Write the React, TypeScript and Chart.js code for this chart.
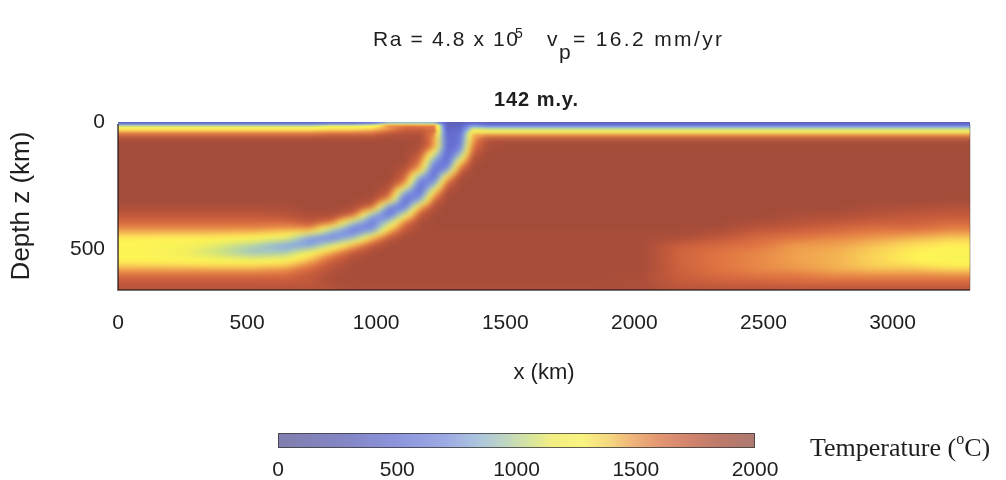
import React, { useEffect, useRef } from "react";
import { Chart, registerables } from "chart.js";

Chart.register(...registerables);

// ---------------- data ----------------
// horizontal cell edges (km)
const xEdgesKm = [0, 150, 300, 450, 600, 700, 790, 870, 950, 1020, 1080, 1140, 1200, 1250, 1300, 1350, 1400, 1470, 1550, 1750, 1950, 2100, 2250, 2400, 2550, 2700, 2850, 3000, 3150, 3300];
// depth cell edges (km)
const depthEdgesKm = [0, 8, 18, 30, 42, 56, 80, 110, 140, 170, 200, 230, 260, 290, 320, 350, 380, 410, 440, 470, 500, 530, 560, 590, 620, 645, 660];

// temperature (°C) of each cell, one row per depth band, one value per x band
const temperatureRows: number[][] = [
  [350, 350, 350, 350, 350, 350, 400, 400, 500, 800, 800, 800, 800, 300, 300, 400, 300, 300, 300, 300, 300, 300, 300, 300, 300, 300, 300, 300, 300],
  [950, 950, 950, 950, 950, 950, 1050, 1050, 1150, 1550, 1550, 1550, 1550, 350, 350, 700, 550, 550, 550, 550, 550, 550, 550, 550, 550, 550, 550, 550, 550],
  [1250, 1250, 1250, 1250, 1250, 1250, 1300, 1300, 1350, 1500, 1650, 1650, 1600, 350, 400, 1000, 950, 950, 950, 950, 950, 950, 950, 950, 950, 950, 950, 950, 950],
  [1420, 1420, 1420, 1420, 1420, 1420, 1450, 1450, 1500, 1600, 1750, 1750, 1650, 400, 450, 1250, 1180, 1180, 1180, 1180, 1180, 1180, 1180, 1180, 1180, 1180, 1180, 1180, 1180],
  [1650, 1650, 1650, 1650, 1650, 1650, 1700, 1700, 1700, 1820, 1820, 1820, 1550, 400, 500, 1450, 1480, 1480, 1480, 1480, 1480, 1480, 1480, 1480, 1480, 1480, 1480, 1480, 1480],
  [1880, 1880, 1880, 1880, 1880, 1880, 1880, 1880, 1880, 1880, 1880, 1880, 1500, 400, 500, 1500, 1850, 1850, 1850, 1850, 1850, 1850, 1850, 1850, 1850, 1850, 1850, 1850, 1850],
  [1900, 1900, 1900, 1900, 1900, 1900, 1900, 1900, 1900, 1900, 1900, 1850, 1550, 400, 550, 1600, 1850, 1900, 1900, 1900, 1900, 1900, 1900, 1900, 1900, 1900, 1900, 1900, 1900],
  [1900, 1900, 1900, 1900, 1900, 1900, 1900, 1900, 1900, 1900, 1900, 1750, 1100, 400, 800, 1750, 1900, 1900, 1900, 1900, 1900, 1900, 1900, 1900, 1900, 1900, 1900, 1900, 1900],
  [1900, 1900, 1900, 1900, 1900, 1900, 1900, 1900, 1900, 1900, 1900, 1600, 700, 420, 1300, 1850, 1900, 1900, 1900, 1900, 1900, 1900, 1900, 1900, 1900, 1900, 1900, 1900, 1900],
  [1900, 1900, 1900, 1900, 1900, 1900, 1900, 1900, 1900, 1900, 1800, 1450, 450, 650, 1650, 1900, 1900, 1900, 1900, 1900, 1900, 1900, 1900, 1900, 1900, 1900, 1900, 1900, 1900],
  [1900, 1900, 1900, 1900, 1900, 1900, 1900, 1900, 1900, 1900, 1700, 800, 450, 1350, 1850, 1900, 1900, 1900, 1900, 1900, 1900, 1900, 1900, 1900, 1900, 1900, 1900, 1900, 1900],
  [1900, 1900, 1900, 1900, 1900, 1900, 1900, 1900, 1900, 1850, 1500, 450, 800, 1700, 1900, 1900, 1900, 1900, 1900, 1900, 1900, 1900, 1900, 1900, 1900, 1900, 1900, 1900, 1900],
  [1900, 1900, 1900, 1900, 1900, 1900, 1900, 1900, 1900, 1750, 800, 450, 1350, 1850, 1900, 1900, 1900, 1900, 1900, 1900, 1900, 1900, 1900, 1900, 1900, 1900, 1900, 1900, 1900],
  [1900, 1900, 1900, 1900, 1900, 1900, 1900, 1900, 1850, 1500, 450, 750, 1650, 1900, 1900, 1900, 1900, 1900, 1900, 1900, 1900, 1900, 1900, 1900, 1900, 1900, 1900, 1900, 1900],
  [1850, 1850, 1850, 1850, 1850, 1900, 1900, 1850, 1650, 550, 550, 1450, 1850, 1900, 1900, 1900, 1900, 1900, 1900, 1900, 1900, 1900, 1900, 1900, 1900, 1900, 1850, 1850, 1800],
  [1750, 1750, 1750, 1750, 1800, 1850, 1850, 1700, 800, 500, 1100, 1750, 1880, 1900, 1900, 1900, 1900, 1900, 1900, 1900, 1900, 1900, 1900, 1900, 1850, 1850, 1800, 1750, 1750],
  [1650, 1650, 1650, 1650, 1650, 1750, 1600, 900, 550, 1000, 1600, 1850, 1900, 1900, 1900, 1900, 1900, 1900, 1900, 1900, 1900, 1900, 1900, 1850, 1800, 1750, 1700, 1700, 1650],
  [1500, 1500, 1500, 1500, 1450, 1450, 900, 550, 700, 1400, 1750, 1880, 1880, 1880, 1880, 1880, 1880, 1880, 1880, 1880, 1880, 1880, 1850, 1750, 1700, 1650, 1600, 1600, 1550],
  [1300, 1300, 1300, 1250, 1150, 700, 600, 850, 1400, 1750, 1880, 1880, 1880, 1880, 1880, 1880, 1880, 1880, 1880, 1880, 1880, 1850, 1750, 1650, 1600, 1550, 1500, 1450, 1400],
  [1250, 1200, 1100, 950, 750, 750, 1100, 1450, 1750, 1880, 1880, 1880, 1880, 1880, 1880, 1880, 1880, 1880, 1880, 1880, 1880, 1700, 1650, 1600, 1500, 1480, 1420, 1350, 1300],
  [1250, 1150, 1050, 900, 950, 1250, 1500, 1750, 1880, 1880, 1880, 1880, 1880, 1880, 1880, 1880, 1880, 1880, 1880, 1880, 1880, 1680, 1600, 1550, 1480, 1450, 1380, 1300, 1220],
  [1280, 1250, 1200, 1200, 1250, 1450, 1700, 1850, 1880, 1880, 1880, 1880, 1880, 1880, 1880, 1880, 1880, 1880, 1880, 1880, 1880, 1680, 1600, 1550, 1480, 1450, 1380, 1300, 1220],
  [1450, 1450, 1450, 1450, 1500, 1650, 1800, 1880, 1880, 1880, 1880, 1880, 1880, 1880, 1880, 1880, 1880, 1880, 1880, 1880, 1880, 1700, 1600, 1550, 1500, 1450, 1400, 1400, 1350],
  [1650, 1650, 1650, 1650, 1650, 1750, 1850, 1880, 1880, 1880, 1880, 1880, 1880, 1880, 1880, 1880, 1880, 1880, 1880, 1880, 1850, 1700, 1650, 1600, 1600, 1550, 1550, 1550, 1550],
  [1750, 1750, 1750, 1750, 1750, 1750, 1870, 1870, 1870, 1870, 1870, 1870, 1870, 1870, 1870, 1870, 1870, 1870, 1870, 1870, 1850, 1750, 1700, 1700, 1650, 1650, 1650, 1650, 1650],
  [1800, 1800, 1800, 1800, 1800, 1800, 1800, 1850, 1850, 1850, 1850, 1850, 1850, 1850, 1850, 1850, 1850, 1850, 1850, 1850, 1850, 1780, 1780, 1780, 1780, 1780, 1780, 1780, 1780],
];

const xTickValues = [0, 500, 1000, 1500, 2000, 2500, 3000];
const depthTickValues = [0, 500];
const colorbarTickValues = [0, 500, 1000, 1500, 2000];
const xRange = [0, 3300];
const depthRange = [0, 660];
const temperatureRange = [0, 2000];

const timeLabel = "142 m.y.";
const raText = "Ra = 4.8 x 10";
const raExponent = "5";
const vText = "v";
const vSubscript = "p";
const vValue = "= 16.2 mm/yr";
const xTitle = "x (km)";
const yTitle = "Depth z (km)";
const cbTitleA = "Temperature (";
const cbTitleSup = "o";
const cbTitleB = "C)";

// ---------------- style ----------------
const SANS = '"Liberation Sans", Arial, Helvetica, sans-serif';
const SERIF = '"Liberation Serif", "Times New Roman", serif';
const TEXT = "#1e1e1e";

const CMAP: [number, number[]][] = [
  [0, [88, 84, 150]],
  [300, [92, 96, 185]],
  [500, [105, 115, 215]],
  [700, [125, 145, 225]],
  [850, [150, 185, 215]],
  [950, [172, 205, 178]],
  [1050, [205, 225, 130]],
  [1150, [245, 240, 90]],
  [1280, [255, 246, 85]],
  [1380, [250, 212, 88]],
  [1480, [240, 162, 78]],
  [1600, [224, 116, 66]],
  [1720, [200, 92, 60]],
  [1830, [176, 80, 58]],
  [1900, [163, 76, 58]],
  [2000, [148, 78, 66]],
];

function tempRGB(t: number): number[] {
  if (t <= CMAP[0][0]) return CMAP[0][1];
  for (let i = 1; i < CMAP.length; i++) {
    if (t <= CMAP[i][0]) {
      const [t0, c0] = CMAP[i - 1];
      const [t1, c1] = CMAP[i];
      const f = (t - t0) / (t1 - t0);
      return c0.map((v, k) => v + (c1[k] - v) * f);
    }
  }
  return CMAP[CMAP.length - 1][1];
}
function rgbStr(c: number[]) {
  return `rgb(${Math.round(c[0])},${Math.round(c[1])},${Math.round(c[2])})`;
}

// locate a value between cell centres (gouraud-style shading of the cells)
function locate(centers: number[], v: number): [number, number] {
  const n = centers.length;
  if (v <= centers[0]) return [0, 0];
  if (v >= centers[n - 1]) return [n - 2, 1];
  let i = 0;
  while (i < n - 2 && centers[i + 1] < v) i++;
  return [i, (v - centers[i]) / (centers[i + 1] - centers[i])];
}

function boxBlur(src: Uint8ClampedArray, w: number, h: number, r: number): Uint8ClampedArray {
  const tmp = new Float32Array(src.length);
  const out = new Uint8ClampedArray(src.length);
  const n = 2 * r + 1;
  for (let y = 0; y < h; y++) {
    for (let c = 0; c < 3; c++) {
      let sum = 0;
      for (let k = -r; k <= r; k++) sum += src[(y * w + Math.min(w - 1, Math.max(0, k))) * 4 + c];
      for (let x = 0; x < w; x++) {
        tmp[(y * w + x) * 4 + c] = sum / n;
        const xo = Math.max(0, x - r);
        const xi = Math.min(w - 1, x + r + 1);
        sum += src[(y * w + xi) * 4 + c] - src[(y * w + xo) * 4 + c];
      }
    }
  }
  for (let x = 0; x < w; x++) {
    for (let c = 0; c < 3; c++) {
      let sum = 0;
      for (let k = -r; k <= r; k++) sum += tmp[(Math.min(h - 1, Math.max(0, k)) * w + x) * 4 + c];
      for (let y = 0; y < h; y++) {
        out[(y * w + x) * 4 + c] = sum / n;
        const yo = Math.max(0, y - r);
        const yi = Math.min(h - 1, y + r + 1);
        sum += tmp[(yi * w + x) * 4 + c] - tmp[(yo * w + x) * 4 + c];
      }
    }
  }
  for (let k = 3; k < out.length; k += 4) out[k] = 255;
  return out;
}

function fitText(ctx: CanvasRenderingContext2D, text: string, x0: number, x1: number, y: number) {
  (ctx as any).letterSpacing = "0px";
  const w = ctx.measureText(text).width;
  const n = Array.from(text).length;
  const ls = Math.max(-1, (x1 - x0 - w) / Math.max(1, n - 1));
  (ctx as any).letterSpacing = `${ls}px`;
  ctx.textAlign = "left";
  ctx.fillText(text, x0, y);
  (ctx as any).letterSpacing = "0px";
}

export default function App() {
  const ref = useRef<HTMLCanvasElement>(null);

  useEffect(() => {
    const canvas = ref.current!;

    const xCenters = xEdgesKm.slice(0, -1).map((e, j) => (e + xEdgesKm[j + 1]) / 2);
    const zCenters = depthEdgesKm.slice(0, -1).map((e, i) => (e + depthEdgesKm[i + 1]) / 2);
    const lut: number[][] = [];
    for (let t = 0; t <= 2000; t++) lut.push(tempRGB(t));

    const fieldPlugin = {
      id: "temperatureField",
      beforeDatasetsDraw(chart: any) {
        const { ctx, chartArea: a, scales } = chart;
        const xs = scales.x;
        const ys = scales.y;
        const x0 = Math.round(a.left);
        const y0 = Math.round(a.top);
        const W = Math.round(a.right) - x0;
        const H = Math.round(a.bottom) - y0;
        const off = document.createElement("canvas");
        off.width = W;
        off.height = H;
        const o = off.getContext("2d")!;
        const img = o.createImageData(W, H);
        const colIdx = [] as [number, number][];
        for (let u = 0; u < W; u++) colIdx.push(locate(xCenters, xs.getValueForPixel(x0 + u + 0.5)));
        const rowIdx = [] as [number, number][];
        for (let v = 0; v < H; v++) rowIdx.push(locate(zCenters, ys.getValueForPixel(y0 + v + 0.5)));
        for (let v = 0; v < H; v++) {
          const [i, fz] = rowIdx[v];
          const rA = temperatureRows[i];
          const rB = temperatureRows[i + 1];
          for (let u = 0; u < W; u++) {
            const [j, fx] = colIdx[u];
            const top = rA[j] + (rA[j + 1] - rA[j]) * fx;
            const bot = rB[j] + (rB[j + 1] - rB[j]) * fx;
            const t = Math.max(0, Math.min(2000, Math.round(top + (bot - top) * fz)));
            const c = lut[t];
            const k = (v * W + u) * 4;
            img.data[k] = c[0];
            img.data[k + 1] = c[1];
            img.data[k + 2] = c[2];
            img.data[k + 3] = 255;
          }
        }
        // light smoothing near the surface, stronger below
        const light = boxBlur(img.data, W, H, 1);
        const strong = boxBlur(boxBlur(img.data, W, H, 3), W, H, 3);
        const yA = Math.round(ys.getPixelForValue(18)) - y0;
        const yB = Math.round(ys.getPixelForValue(70)) - y0;
        for (let v = 0; v < H; v++) {
          const f = v <= yA ? 0 : v >= yB ? 1 : (v - yA) / (yB - yA);
          for (let u = 0; u < W; u++) {
            const k = (v * W + u) * 4;
            for (let c = 0; c < 3; c++) img.data[k + c] = light[k + c] * (1 - f) + strong[k + c] * f;
          }
        }
        o.putImageData(img, 0, 0);
        ctx.drawImage(off, x0, y0);
        // frame
        ctx.save();
        ctx.strokeStyle = "rgba(40,30,30,0.85)";
        ctx.lineWidth = 1.5;
        ctx.beginPath();
        ctx.moveTo(a.left, a.top + 2);
        ctx.lineTo(a.left, a.bottom);
        ctx.lineTo(a.right, a.bottom);
        ctx.stroke();
        ctx.strokeStyle = "rgba(90,80,80,0.5)";
        ctx.lineWidth = 1;
        ctx.beginPath();
        ctx.moveTo(a.right, a.top + 2);
        ctx.lineTo(a.right, a.bottom);
        ctx.stroke();
        ctx.restore();
      },
      afterDraw(chart: any) {
        const ctx: CanvasRenderingContext2D = chart.ctx;
        ctx.save();
        ctx.fillStyle = TEXT;
        ctx.textBaseline = "alphabetic";
        // header
        ctx.font = `21px ${SANS}`;
        fitText(ctx, raText, 373, 518, 46);
        ctx.font = `14px ${SANS}`;
        ctx.fillText(raExponent, 515, 38);
        ctx.font = `21px ${SANS}`;
        ctx.fillText(vText, 547, 46);
        ctx.fillText(vSubscript, 559, 59);
        fitText(ctx, vValue, 573, 722, 46);
        ctx.font = `bold 20px ${SANS}`;
        fitText(ctx, timeLabel, 494, 578, 106);

        // colorbar
        const cbL = 278, cbR = 755, cbT = 433, cbB = 448;
        const span = temperatureRange[1] - temperatureRange[0];
        for (let px = cbL; px < cbR; px++) {
          const t = temperatureRange[0] + ((px + 0.5 - cbL) / (cbR - cbL)) * span;
          const c = tempRGB(t).map((v) => v * 0.72 + 235 * 0.28);
          ctx.fillStyle = rgbStr(c);
          ctx.fillRect(px, cbT, 1, cbB - cbT);
        }
        ctx.strokeStyle = "rgba(60,60,60,0.8)";
        ctx.lineWidth = 1;
        ctx.strokeRect(cbL + 0.5, cbT + 0.5, cbR - cbL - 1, cbB - cbT - 1);
        ctx.fillStyle = TEXT;
        ctx.font = `21px ${SANS}`;
        ctx.textAlign = "center";
        for (const v of colorbarTickValues) {
          const px = cbL + ((v - temperatureRange[0]) / span) * (cbR - cbL);
          ctx.fillText(String(v), px, 476);
        }
        ctx.textAlign = "left";
        ctx.font = `26px ${SERIF}`;
        const wa = ctx.measureText(cbTitleA).width;
        ctx.fillText(cbTitleA, 810, 456);
        ctx.font = `16px ${SERIF}`;
        const ws = ctx.measureText(cbTitleSup).width;
        ctx.fillText(cbTitleSup, 810 + wa, 444);
        ctx.font = `26px ${SERIF}`;
        ctx.fillText(cbTitleB, 810 + wa + ws, 456);
        ctx.restore();
      },
    };

    const tickFont = { family: SANS, size: 21 };
    const tickFmt = (v: any) => String(v);
    const chart = new Chart(canvas, {
      type: "scatter",
      data: { datasets: [{ data: [], pointRadius: 0 }] },
      options: {
        responsive: false,
        animation: false,
        devicePixelRatio: 1,
        layout: { padding: { left: 0, top: 122, right: 36, bottom: 90 } },
        plugins: { legend: { display: false }, tooltip: { enabled: false } },
        scales: {
          x: {
            type: "linear",
            position: "bottom",
            min: xRange[0],
            max: xRange[1],
            afterBuildTicks: (s: any) => {
              s.ticks = xTickValues.map((v) => ({ value: v }));
            },
            afterFit: (s: any) => {
              s.height = 100;
            },
            grid: { display: false, drawTicks: false },
            border: { display: false },
            ticks: { font: tickFont, color: TEXT, padding: 21, maxRotation: 0, autoSkip: false, callback: tickFmt },
            title: { display: true, text: xTitle, font: { family: SANS, size: 22 }, color: TEXT, padding: { top: 0, bottom: 4 } },
          },
          y: {
            type: "linear",
            position: "left",
            reverse: true,
            min: depthRange[0],
            max: depthRange[1],
            afterBuildTicks: (s: any) => {
              s.ticks = depthTickValues.map((v) => ({ value: v }));
            },
            afterFit: (s: any) => {
              s.width = 118;
            },
            grid: { display: false, drawTicks: false },
            border: { display: false },
            ticks: { font: tickFont, color: TEXT, padding: 13, autoSkip: false, callback: tickFmt },
            title: { display: true, text: yTitle, font: { family: SANS, size: 26 }, color: TEXT, padding: { top: 6, bottom: 0 } },
          },
        },
      },
      plugins: [fieldPlugin],
    } as any);
    return () => chart.destroy();
  }, []);

  return (
    <div style={{ position: "absolute", left: 0, top: 0, width: 1006, height: 480, background: "#fff" }}>
      <canvas ref={ref} width={1006} height={480} style={{ display: "block", width: 1006, height: 480 }} />
    </div>
  );
}
